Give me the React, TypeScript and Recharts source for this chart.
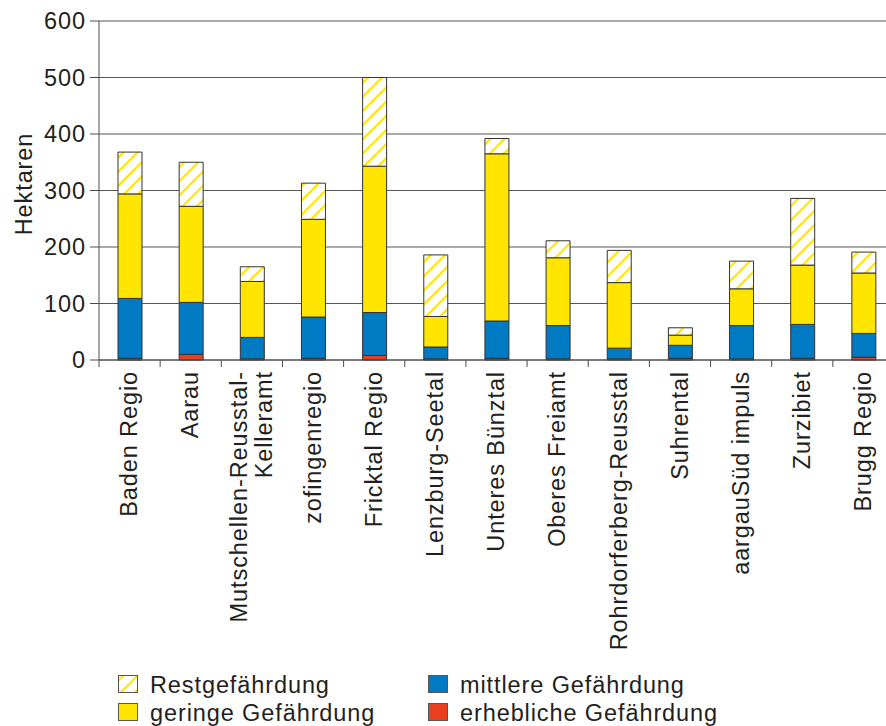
import { Bar, BarChart, CartesianGrid, XAxis, YAxis } from 'recharts';

const regions = [
  'Baden Regio',
  'Aarau',
  'Mutschellen-Reusstal-\nKelleramt',
  'zofingenregio',
  'Fricktal Regio',
  'Lenzburg-Seetal',
  'Unteres Bünztal',
  'Oberes Freiamt',
  'Rohrdorferberg-Reusstal',
  'Suhrental',
  'aargauSüd impuls',
  'Zurzibiet',
  'Brugg Regio',
];

// hectares per hazard class, stacked bottom to top
const erheblich = [3, 10, 2, 3, 8, 2, 3, 2, 2, 3, 2, 3, 5];
const mittlere = [106, 92, 38, 73, 76, 21, 66, 59, 19, 23, 59, 60, 42];
const geringe = [185, 170, 99, 173, 259, 54, 296, 120, 116, 18, 65, 105, 107];
const rest = [74, 78, 26, 64, 157, 109, 27, 30, 57, 13, 49, 118, 37];

const yTicks = [0, 100, 200, 300, 400, 500, 600];

const legendItems = [
  { key: 'rest', label: 'Restgefährdung' },
  { key: 'geringe', label: 'geringe Gefährdung' },
  { key: 'mittlere', label: 'mittlere Gefährdung' },
  { key: 'erheblich', label: 'erhebliche Gefährdung' },
];

const YELLOW = '#FFE500';
const BLUE = '#007AC3';
const RED = '#E8401E';
const INK = '#231F20';
const AXIS = '#4d4d4d';
const FONT = "'Liberation Sans', Arial, sans-serif";
const FS = 23.5;
const LS = 0.9;

const W = 894;
const H = 726;
const AXIS_W = 99;
const BAND = (W - AXIS_W) / regions.length;

const data = regions.map((name, i) => ({
  name,
  erheblich: erheblich[i],
  mittlere: mittlere[i],
  geringe: geringe[i],
  rest: rest[i],
}));

const swatchFill: Record<string, string> = {
  rest: 'url(#hatchKey)',
  geringe: YELLOW,
  mittlere: BLUE,
  erheblich: RED,
};

function RegionTick({ x, y, payload }: any) {
  const lines = String(payload.value).split('\n');
  return (
    <g transform={`translate(${x},${y})`}>
      <line x1={-BAND / 2} x2={-BAND / 2} y1={0} y2={7} stroke={AXIS} />
      <text
        transform="rotate(-90)"
        textAnchor="end"
        fill={INK}
        fontSize={FS}
        letterSpacing={LS}
        fontFamily={FONT}
      >
        {lines.map((line, i) => (
          <tspan key={i} x={-11} y={(i - (lines.length - 1) / 2) * 25} dy="0.33em">
            {line}
          </tspan>
        ))}
      </text>
    </g>
  );
}

function AxisTitle() {
  return (
    <text
      transform="translate(32,184) rotate(-90)"
      textAnchor="middle"
      fill={INK}
      fontSize={FS}
      letterSpacing={LS}
      fontFamily={FONT}
    >
      Hektaren
    </text>
  );
}

function HazardLegend() {
  return (
    <svg
      width={886}
      height={726}
      style={{ position: 'absolute', left: 0, top: 0, pointerEvents: 'none' }}
    >
      <defs>
        <pattern
          id="hatchKey"
          patternUnits="userSpaceOnUse"
          width="10"
          height="10"
          patternTransform="rotate(45)"
        >
          <rect width="10" height="10" fill="#fff" />
          <line x1="5" y1="0" x2="5" y2="10" stroke={YELLOW} strokeWidth="2.2" />
        </pattern>
      </defs>
      {legendItems.map((item, i) => {
        const col = Math.floor(i / 2);
        const row = i % 2;
        const sx = col === 0 ? 118.5 : 428.5;
        const sy = 675.5 + row * 28;
        return (
          <g key={item.key}>
            <rect x={sx} y={sy} width={19} height={17} fill={swatchFill[item.key]} stroke="#555" />
            <text
              x={sx + 31.5}
              y={sy + 17}
              fill={INK}
              fontSize={FS}
              letterSpacing={LS}
              fontFamily={FONT}
            >
              {item.label}
            </text>
          </g>
        );
      })}
    </svg>
  );
}

export default function App() {
  return (
    <div
      style={{
        position: 'absolute',
        left: 0,
        top: 0,
        width: 886,
        height: 726,
        overflow: 'hidden',
        background: '#fff',
        fontFamily: FONT,
      }}
    >
      <BarChart width={W} height={H} data={data} margin={{ top: 21, right: 0, bottom: 0, left: 0 }}>
        <defs>
          <pattern
            id="hatch"
            patternUnits="userSpaceOnUse"
            width="10"
            height="10"
            patternTransform="rotate(45)"
          >
            <rect width="10" height="10" fill="#fff" />
            <line x1="5" y1="0" x2="5" y2="10" stroke={YELLOW} strokeWidth="2.2" />
          </pattern>
        </defs>
        <CartesianGrid vertical={false} stroke="#555" />
        <XAxis
          dataKey="name"
          interval={0}
          height={366}
          tickSize={0}
          tickMargin={0}
          tickLine={false}
          axisLine={{ stroke: AXIS }}
          tick={<RegionTick />}
        />
        <YAxis
          width={AXIS_W}
          domain={[0, 600]}
          ticks={yTicks}
          tickSize={9}
          tickMargin={4}
          axisLine={{ stroke: AXIS }}
          tickLine={{ stroke: AXIS }}
          tick={{ fill: INK, fontSize: FS, letterSpacing: LS, fontFamily: FONT }}
          label={<AxisTitle />}
        />
        <Bar dataKey="erheblich" stackId="a" fill={RED} stroke="#333" barSize={24} isAnimationActive={false} />
        <Bar dataKey="mittlere" stackId="a" fill={BLUE} stroke="#333" barSize={24} isAnimationActive={false} />
        <Bar dataKey="geringe" stackId="a" fill={YELLOW} stroke="#333" barSize={24} isAnimationActive={false} />
        <Bar dataKey="rest" stackId="a" fill="url(#hatch)" stroke="#333" barSize={24} isAnimationActive={false} />
      </BarChart>
      <HazardLegend />
    </div>
  );
}
